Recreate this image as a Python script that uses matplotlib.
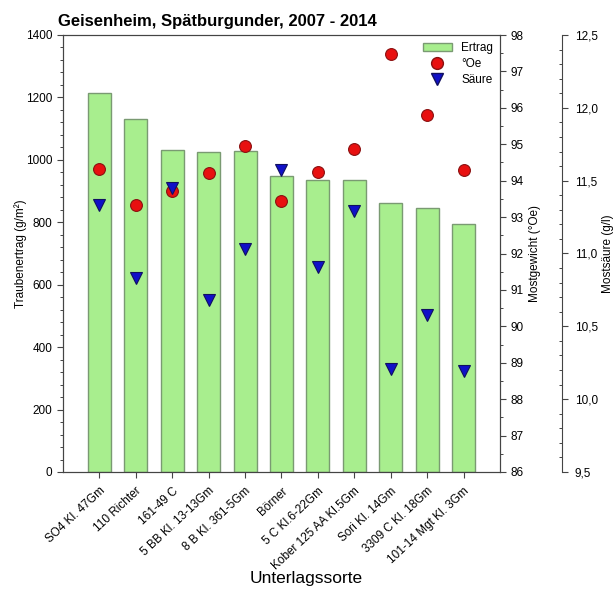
import matplotlib
matplotlib.use('Agg')
from matplotlib import pyplot as plt
from matplotlib.ticker import MultipleLocator, FuncFormatter
from matplotlib.patches import Patch
from matplotlib.lines import Line2D
from matplotlib.transforms import ScaledTranslation
import numpy as np

plt.rcParams['font.family'] = ['Liberation Sans', 'DejaVu Sans']

sorten = ['SO4 Kl. 47Gm', '110 Richter', '161-49 C', '5 BB Kl. 13-13Gm',
          '8 B Kl. 361-5Gm', 'Börner', '5 C Kl.6-22Gm', 'Kober 125 AA Kl.5Gm',
          'Sori Kl. 14Gm', '3309 C Kl. 18Gm', '101-14 Mgt Kl. 3Gm']
ertrag = [1213, 1130, 1030, 1026, 1027, 948, 935, 935, 861, 845, 795]
oechsle = [94.31, 93.32, 93.72, 94.21, 94.94, 93.43, 94.23, 94.88, 97.48, 95.8, 94.3]
saeure = [11.33, 10.83, 11.45, 10.68, 11.03, 11.57, 10.91, 11.29, 10.21, 10.58, 10.19]

axcol = '#444444'
fs = 8.5

fig = plt.figure(figsize=(6.13, 5.95), dpi=100)
ax = fig.add_axes([63/613, 1 - 472/595, 437/613, 437/595])
ax2 = ax.twinx()
ax3 = ax.twinx()

x = np.arange(len(sorten))
ax.bar(x, ertrag, width=0.63, color='#a8ee8e', edgecolor='#7a9a72', linewidth=1.0)
ax.set_xlim(-1, 11)
ax.set_ylim(0, 1400)
ax.yaxis.set_major_locator(MultipleLocator(200))
ax.yaxis.set_minor_locator(MultipleLocator(40))
ax.set_xticks(x)
ax.set_xticklabels(sorten, rotation=43, ha='right', va='top', rotation_mode='anchor', fontsize=fs)
shift = ScaledTranslation(4/100, 0, fig.dpi_scale_trans)
for lab in ax.get_xticklabels():
    lab.set_transform(lab.get_transform() + shift)
ax.set_ylabel('Traubenertrag (g/m²)', fontsize=fs, labelpad=-1)
ax.tick_params(axis='y', labelsize=fs)

ax2.plot(x, oechsle, 'o', color='#e81010', markeredgecolor='#8a1010', markersize=8.5, markeredgewidth=0.8)
ax2.set_ylim(86, 98)
ax2.yaxis.set_major_locator(MultipleLocator(1))
ax2.yaxis.set_minor_locator(MultipleLocator(0.5))
ax2.set_ylabel('Mostgewicht (°Oe)', fontsize=fs, labelpad=4)
ax2.tick_params(axis='y', labelsize=fs)

ax3.plot(x, saeure, 'v', color='#1010c8', markeredgecolor='#101060', markersize=8.5, markeredgewidth=0.8)
ax3.set_ylim(9.5, 12.5)
ax3.spines['right'].set_position(('axes', 499/437))
for s in ['top', 'left', 'bottom']:
    ax3.spines[s].set_visible(False)
ax3.yaxis.set_major_locator(MultipleLocator(0.5))
ax3.yaxis.set_minor_locator(MultipleLocator(0.1))
ax3.yaxis.set_major_formatter(FuncFormatter(lambda v, p: f'{v:.1f}'.replace('.', ',')))
ax3.set_ylabel('Mostsäure (g/l)', fontsize=fs, labelpad=3)

for a in (ax, ax2, ax3):
    for sp in a.spines.values():
        sp.set_color(axcol)
        sp.set_linewidth(0.8)
    a.tick_params(which='major', length=4, width=0.8, color=axcol)
    a.tick_params(which='minor', length=2.5, width=0.7, color=axcol)
ax.tick_params(axis='x', which='major', length=4.3, pad=5)
ax3.tick_params(axis='y', which='major', direction='out', labelsize=fs, pad=5.3)
ax3.tick_params(axis='y', which='minor', direction='in')

handles = [Patch(facecolor='#a8ee8e', edgecolor='#7a9a72', label='Ertrag'),
           Line2D([], [], ls='none', marker='o', color='#e81010', markeredgecolor='#8a1010', markersize=8.5, label='°Oe'),
           Line2D([], [], ls='none', marker='v', color='#1010c8', markeredgecolor='#101060', markersize=8.5, label='Säure')]
ax3.legend(handles=handles, loc='upper right', frameon=False, fontsize=fs,
           borderaxespad=0.2, handlelength=2.4, handletextpad=0.8, labelspacing=0.35)

fig.text(58/613, 1 - 26/595, 'Geisenheim, Spätburgunder, 2007 - 2014',
         fontsize=12, fontweight='bold', va='baseline', ha='left')
fig.text(306/613, 1 - 578/595, 'Unterlagssorte', fontsize=12.5, ha='center', va='center')

fig.savefig('out.png', dpi=100)
